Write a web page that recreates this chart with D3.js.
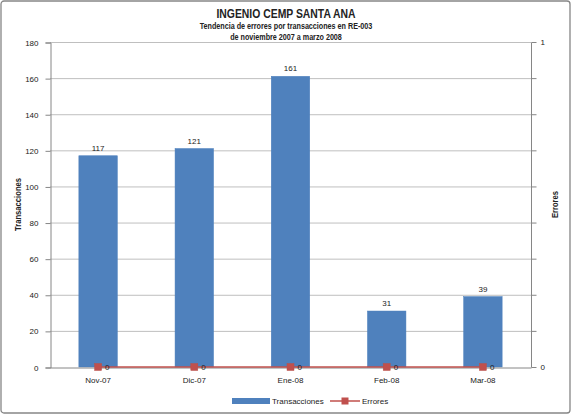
<!DOCTYPE html>
<html>
<head>
<meta charset="utf-8">
<script src="https://cdn.jsdelivr.net/npm/d3@7"></script>
<style>
  body { margin: 0; background: #fff; }
  svg text { font-family: "Liberation Sans", Arial, sans-serif; fill: #222; }
  .ttl { font-family: "Liberation Sans Narrow", "Liberation Sans", Arial, sans-serif; font-weight: bold; }
</style>
</head>
<body>
<svg id="chart" width="572" height="415"></svg>
<script>
  // chart data
  var months = ['Nov-07', 'Dic-07', 'Ene-08', 'Feb-08', 'Mar-08'],
      transacciones = [117, 121, 161, 31, 39],
      errores = [0, 0, 0, 0, 0],
      leftTicks = [0, 20, 40, 60, 80, 100, 120, 140, 160, 180],
      rightLabels = [0, 1];

  (function() {
    var svg = d3.select('#chart'),
        pL = 50, pR = 531, pT = 42, pB = 367,
        blue = '#4F81BD', red = '#C0504D', grid = '#BFBFBF', axisCol = '#868686';

    // outer border
    svg.append('rect')
      .attr('x', 1).attr('y', 1).attr('width', 569).attr('height', 412)
      .attr('rx', 3)
      .style('fill', '#fff').style('stroke', axisCol).style('stroke-width', 1.3);

    var x = d3.scaleBand().domain(months).range([pL, pR]),
        y = d3.scaleLinear().domain([0, 180]).range([pB, pT]),
        y2 = d3.scaleLinear().domain([0, 1]).range([pB, pT]);

    // gridlines
    svg.append('g').selectAll('line').data(leftTicks.slice(1)).enter().append('line')
      .attr('x1', pL).attr('x2', pR)
      .attr('y1', function(d) { return y(d) + 0.5; })
      .attr('y2', function(d) { return y(d) + 0.5; })
      .style('stroke', grid).style('stroke-width', 1);

    // left axis
    var yAxis = d3.axisLeft(y).tickValues(leftTicks).tickSize(5).tickPadding(7);
    var gy = svg.append('g').attr('transform', 'translate(' + (pL + 0.5) + ',0.5)').call(yAxis);
    gy.select('.domain').style('stroke', axisCol);
    gy.selectAll('.tick line').style('stroke', axisCol);
    gy.selectAll('.tick text').style('font-size', '8px').style('fill', '#222');

    // right axis: marks on every gridline, labels only on 0 and 1
    var gy2 = svg.append('g').attr('transform', 'translate(' + (pR + 0.5) + ',0.5)');
    gy2.append('line').attr('y1', pT).attr('y2', pB).style('stroke', axisCol);
    gy2.selectAll('line.mk').data(leftTicks).enter().append('line')
      .attr('class', 'mk')
      .attr('x1', 0).attr('x2', 5)
      .attr('y1', function(d) { return y(d); })
      .attr('y2', function(d) { return y(d); })
      .style('stroke', axisCol);
    gy2.selectAll('text').data(rightLabels).enter().append('text')
      .attr('x', 9).attr('y', function(d) { return y2(d); })
      .attr('dy', '0.32em')
      .style('font-size', '8px')
      .text(function(d) { return d; });

    // bars
    var barW = x.bandwidth() * 0.4;
    svg.append('g').selectAll('rect').data(transacciones).enter().append('rect')
      .attr('x', function(d, i) { return x(months[i]) + (x.bandwidth() - barW) / 2; })
      .attr('y', function(d) { return y(d); })
      .attr('width', barW)
      .attr('height', function(d) { return pB - y(d); })
      .style('fill', blue).style('stroke', '#4A7EBB').style('stroke-width', 0.5);

    svg.append('g').selectAll('text').data(transacciones).enter().append('text')
      .attr('x', function(d, i) { return x(months[i]) + x.bandwidth() / 2; })
      .attr('y', function(d) { return y(d) - 5; })
      .attr('text-anchor', 'middle')
      .style('font-size', '8px')
      .text(function(d) { return d; });

    // x axis
    var xAxis = d3.axisBottom(x).tickSize(0).tickPadding(10);
    var gx = svg.append('g').attr('transform', 'translate(0,' + (pB + 0.5) + ')').call(xAxis);
    gx.select('.domain').style('stroke', axisCol);
    gx.selectAll('.tick text').style('font-size', '8px').style('fill', '#222');

    // errores line
    var line = d3.line()
      .x(function(d, i) { return x(months[i]) + x.bandwidth() / 2; })
      .y(function(d) { return y2(d); });
    svg.append('path').datum(errores)
      .attr('d', line)
      .style('fill', 'none').style('stroke', red).style('stroke-width', 1.3);
    svg.append('g').selectAll('rect').data(errores).enter().append('rect')
      .attr('x', function(d, i) { return x(months[i]) + x.bandwidth() / 2 - 3.5; })
      .attr('y', function(d) { return y2(d) - 3.5; })
      .attr('width', 7).attr('height', 7)
      .style('fill', red).style('stroke', '#B9504B').style('stroke-width', 0.5);
    svg.append('g').selectAll('text').data(errores).enter().append('text')
      .attr('x', function(d, i) { return x(months[i]) + x.bandwidth() / 2 + 7; })
      .attr('y', function(d) { return y2(d); })
      .attr('dy', '0.35em')
      .style('font-size', '8px')
      .text(function(d) { return d; });

    // titles (condensed like the original narrow face)
    function title(txt, cy, size) {
      svg.append('text').attr('class', 'ttl')
        .attr('transform', 'translate(286,' + cy + ') scale(0.8,1)')
        .attr('text-anchor', 'middle')
        .style('font-size', size + 'px').text(txt);
    }
    title('INGENIO CEMP SANTA ANA', 18, 13);
    title('Tendencia de errores por transacciones  en  RE-003', 29, 9);
    title('de noviembre 2007  a marzo 2008', 40, 9);

    svg.append('text').attr('class', 'ttl')
      .attr('transform', 'translate(21,' + ((pT + pB) / 2) + ') rotate(-90) scale(0.85,1)')
      .attr('text-anchor', 'middle')
      .style('font-size', '9px').text('Transacciones');
    svg.append('text').attr('class', 'ttl')
      .attr('transform', 'translate(558,' + ((pT + pB) / 2) + ') rotate(-90) scale(0.85,1)')
      .attr('text-anchor', 'middle')
      .style('font-size', '9px').text('Errores');

    // legend
    var lg = svg.append('g').attr('transform', 'translate(0,401)');
    lg.append('rect').attr('x', 232).attr('y', -3).attr('width', 38).attr('height', 6).style('fill', blue);
    lg.append('text').attr('x', 272).attr('y', 0).attr('dy', '0.35em').style('font-size', '8px').text('Transacciones');
    lg.append('line').attr('x1', 330).attr('x2', 360).attr('y1', 0).attr('y2', 0).style('stroke', red).style('stroke-width', 1.5);
    lg.append('rect').attr('x', 341.5).attr('y', -3.5).attr('width', 7).attr('height', 7).style('fill', red);
    lg.append('text').attr('x', 362).attr('y', 0).attr('dy', '0.35em').style('font-size', '8px').text('Errores');
  })();
</script>
</body>
</html>
